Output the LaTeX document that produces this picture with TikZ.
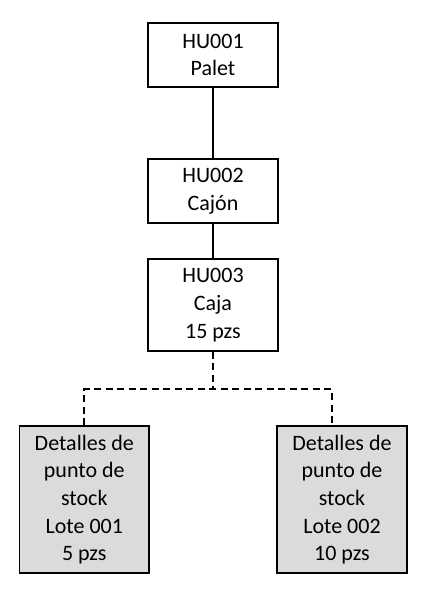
\documentclass[tikz,border=0pt]{standalone}
\usepackage{fontspec}
\setmainfont{Carlito}
\begin{document}
\begin{tikzpicture}[x=1pt,y=1pt,
  hubox/.style={draw=black, line width=1.7pt, fill=white, minimum width=129.4pt, inner sep=0pt, align=center,
    font=\fontsize{22}{27.7}\selectfont},
  stockbox/.style={hubox, fill=gray!28, minimum height=147.3pt},
  link/.style={line width=1.7pt},
  dlink/.style={line width=1.7pt, dash pattern=on 7pt off 4.5pt}]
\useasboundingbox (0,0) rectangle (430,590);
\node[hubox, minimum height=64.6pt] (hu1) at (213,535) {HU001\\Palet};
\node[hubox, minimum height=64.3pt] (hu2) at (213,398.8) {HU002\\Cajón};
\node[hubox, minimum height=91.7pt] (hu3) at (213,284.8) {HU003\\Caja\\15 pzs};
\node[stockbox] (s1) at (84.3,90.3) {Detalles de\\punto de\\stock\\Lote 001\\5 pzs};
\node[stockbox] (s2) at (342,90.3) {Detalles de\\punto de\\stock\\Lote 002\\10 pzs};
\coordinate (j) at (213,200.7);
\coordinate (s1t) at ([xshift=-0.3pt]s1.north);
\coordinate (s2t) at ([xshift=-10.3pt]s2.north);
\draw[link] (hu1.south) -- (hu2.north);
\draw[link] (hu2.south) -- (hu3.north);
\draw[dlink] (hu3.south) -- (j);
\draw[dlink] (s1t) -- (s1t |- j) -- (s2t |- j) -- (s2t);
\end{tikzpicture}
\end{document}
